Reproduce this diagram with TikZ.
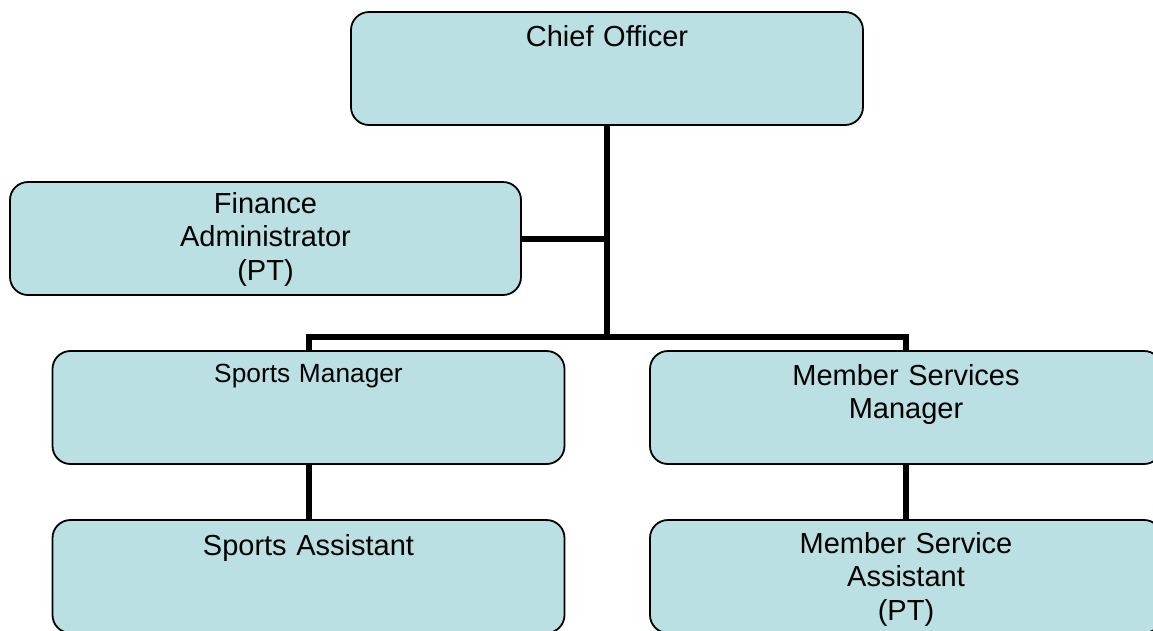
\documentclass[tikz,border=0pt]{standalone}
\usepackage{fontspec}
\setmainfont{Liberation Sans}
\usetikzlibrary{calc}
\definecolor{boxfill}{RGB}{186,224,227}
\begin{document}
\begin{tikzpicture}[x=1pt,y=-1pt,
  orgbox/.style={draw=black, line width=1.8pt, fill=boxfill, rounded corners=18pt,
    minimum width=512pt, minimum height=113pt, inner sep=0pt},
  lbl/.style={anchor=base, inner sep=0pt, text width=500pt, align=center,
    font=\fontsize{29}{33.7}\selectfont},
  smalllbl/.style={lbl, font=\fontsize{26.3}{31}\selectfont},
  link/.style={line width=6pt, line join=miter}]
\useasboundingbox (0,0) rectangle (1153,630);
\clip (0,0) rectangle (1153,630);

% boxes
\node[orgbox] (chief) at (607,68.5) {};
\node[orgbox, minimum width=511pt] (fin) at (265.5,238.5) {};
\node[orgbox] (sm) at (308.5,407.5) {};
\node[orgbox] (msm) at (906,407.5) {};
\node[orgbox] (sa) at (308.5,576.5) {};
\node[orgbox] (msa) at (906,576.5) {};

% labels, set from the top of each box
\node[lbl] (chieftxt) at ($(chief.north)+(0,35)$) {Chief Officer};
\node[lbl] (fintxt) at ($(fin.north)+(0,32)$) {Finance\\Administrator\\(PT)};
\node[smalllbl] (smtxt) at ($(sm.north)+(0,32)$) {Sports Manager};
\node[lbl] (msmtxt) at ($(msm.north)+(0,35)$) {Member Services\\Manager};
\node[lbl] (satxt) at ($(sa.north)+(0,36)$) {Sports Assistant};
\node[lbl] (msatxt) at ($(msa.north)+(0,34)$) {Member Service\\Assistant\\(PT)};

% connectors
\coordinate (bus) at (607,337);
\draw[link] (chief.south) -- (bus);
\draw[link] (fin.east) -- (fin.east -| chief.south);
\draw[link] (sm.north) |- (bus) -| (msm.north);
\draw[link] (sm.south) -- (sa.north);
\draw[link] (msm.south) -- (msa.north);
\end{tikzpicture}
\end{document}
